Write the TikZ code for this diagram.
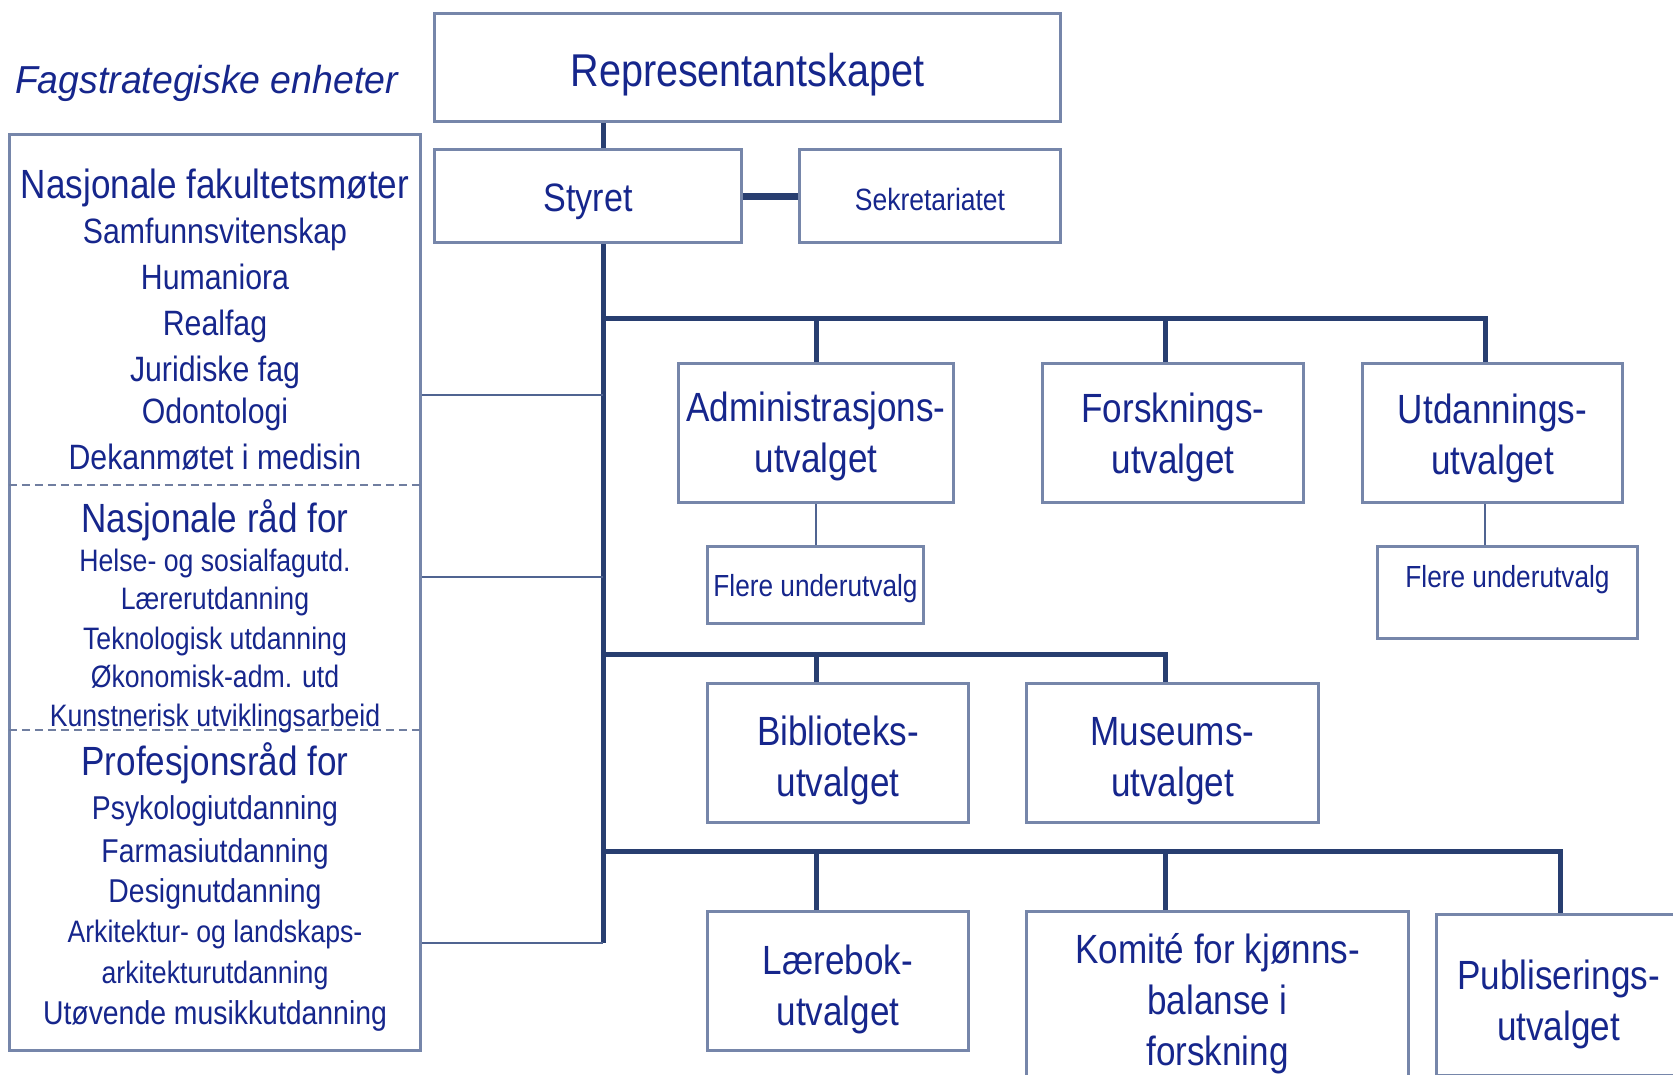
\documentclass[tikz,border=0pt]{standalone}
\usepackage{fontspec}
\setmainfont{Liberation Sans}[FakeStretch=0.86]
\newfontfamily\fagfont{Liberation Sans}[FakeStretch=0.96]
\newcommand\myfs[2]{\fontsize{#1}{#2}\selectfont}
\definecolor{txt}{RGB}{22,38,140}
\definecolor{boxc}{RGB}{118,134,170}
\definecolor{linec}{RGB}{40,62,112}
\definecolor{thinc}{RGB}{80,100,145}
\definecolor{dashc}{RGB}{112,126,160}
\tikzset{
  box/.style={draw=boxc, line width=2.4pt, fill=white, inner sep=0pt},
  bt/.style={text=txt, inner sep=0pt, align=center},
  main/.style={draw=linec, line width=5pt},
  thinline/.style={draw=thinc, line width=2pt},
  dsh/.style={draw=dashc, line width=2.4pt, dash pattern=on 8pt off 5pt},
  big/.style={font=\myfs{40.8}{51}},
  item/.style={text=txt, anchor=mid, inner sep=0pt},
  hd/.style={item, font=\myfs{40.8}{48}},
  ia/.style={item, font=\myfs{35.2}{42}},
  ib/.style={item, font=\myfs{31}{38}},
  ic/.style={item, font=\myfs{33}{40}},
}
\begin{document}
\begin{tikzpicture}[x=1pt, y=-1pt]
\useasboundingbox (0,0) rectangle (1673,1074);
\clip (0,0) rectangle (1673,1074);

% helper coordinates
\coordinate (trunk) at (603,0);
\coordinate (tbot) at (603,943);
\coordinate (b1) at (603,318);
\coordinate (b2) at (603,654);
\coordinate (b3) at (603,851);
\coordinate (c1) at (816,0);
\coordinate (c2) at (1165,0);
\coordinate (c3) at (1485,0);
\coordinate (c4) at (1560,0);
\coordinate (k1) at (603,395);
\coordinate (k2) at (603,577);
\coordinate (k3) at (603,943);

% title
\node[text=txt, anchor=base, inner sep=0pt, font=\fagfont\itshape\myfs{39}{46}] (fag) at (206.5,93) {Fagstrategiske enheter};

% boxes
\node[box, minimum width=625, minimum height=107] (Repr) at (747.5,67.5) {};
\node[box, minimum width=306, minimum height=92] (Styret) at (588,196) {};
\node[box, minimum width=260, minimum height=92] (Sekr) at (930,196) {};
\node[box, minimum width=274, minimum height=138] (Adm) at (816,433) {};
\node[box, minimum width=260, minimum height=138] (Forsk) at (1173,433) {};
\node[box, minimum width=259, minimum height=138] (Utd) at (1492.5,433) {};
\node[box, minimum width=215, minimum height=76] (FlereL) at (815.5,585) {};
\node[box, minimum width=259, minimum height=91] (FlereR) at (1507.5,592.5) {};
\node[box, minimum width=260, minimum height=138] (Bibl) at (838,753) {};
\node[box, minimum width=291, minimum height=138] (Mus) at (1172.5,753) {};
\node[box, minimum width=260, minimum height=138] (Laer) at (838,981) {};
\node[box, minimum width=381, minimum height=176] (Komite) at (1217.5,1000) {};
\node[box, minimum width=243, minimum height=160] (Publ) at (1558.5,995) {};
\node[box, minimum width=410, minimum height=915] (L) at (215,592.5) {};

% box texts
\node[bt, font=\myfs{46}{52}] (ReprT) at ([yshift=-7pt]Repr.center) {Representantskapet};
\node[bt, font=\myfs{39.6}{46}] (StyretT) at ([yshift=-6pt]Styret.center) {Styret};
\node[bt, font=\myfs{30.8}{36}] (SekrT) at ([yshift=-3pt]Sekr.center) {Sekretariatet};
\node[bt, big] (AdmT) at ([yshift=-3pt]Adm.center) {Administrasjons-\\utvalget};
\node[bt, big] (ForskT) at ([yshift=-4pt]Forsk.center) {Forsknings-\\utvalget};
\node[bt, big] (UtdT) at ([yshift=-5.5pt]Utd.center) {Utdannings-\\utvalget};
\node[bt, font=\myfs{30.5}{36}] (FlereLT) at ([yshift=-4pt]FlereL.center) {Flere underutvalg};
\node[bt, font=\myfs{30.5}{36}, anchor=mid] (FlereRT) at ([yshift=-39.5pt]FlereR.north) {Flere underutvalg};
\node[bt, big] (BiblT) at ([yshift=-7.5pt]Bibl.center) {Biblioteks-\\utvalget};
\node[bt, big] (MusT) at ([yshift=-8.5pt]Mus.center) {Museums-\\utvalget};
\node[bt, big] (LaerT) at ([yshift=-8pt]Laer.center) {Lærebok-\\utvalget};
\node[bt, big] (KomiteT) at ([yshift=-4pt]Komite.center) {Komité for kjønns-\\balanse i\\forskning};
\node[bt, big] (PublT) at ([yshift=-9pt]Publ.center) {Publiserings-\\utvalget};

% connectors
\draw[main] (Repr.south -| trunk) -- (Styret.north -| trunk);
\draw[main] (Styret.south -| trunk) -- (tbot);
\draw[draw=linec, line width=7pt] (Styret.east) -- (Sekr.west);

\draw[main] (b1) -| (Utd.north -| c3);
\draw[main] (b1 -| c1) -- (Adm.north -| c1);
\draw[main] (b1 -| c2) -- (Forsk.north -| c2);

\draw[main] (b2) -| (Mus.north -| c2);
\draw[main] (b2 -| c1) -- (Bibl.north -| c1);

\draw[main] (b3) -| (Publ.north -| c4);
\draw[main] (b3 -| c1) -- (Laer.north -| c1);
\draw[main] (b3 -| c2) -- (Komite.north -| c2);

\draw[thinline] (Adm.south -| c1) -- (FlereL.north -| c1);
\draw[thinline] (Utd.south -| c3) -- (FlereR.north -| c3);

\draw[thinline] (L.east |- k1) -- (k1);
\draw[thinline] (L.east |- k2) -- (k2);
\draw[thinline] (L.east |- k3) -- (k3);

% redraw box outlines over connector ends
\foreach \n in {Repr,Styret,Sekr,Adm,Forsk,Utd,FlereL,FlereR,Bibl,Mus,Laer,Komite,Publ,L}
  \draw[draw=boxc, line width=2.4pt] (\n.south west) rectangle (\n.north east);

% dashed separators
\draw[dsh] (L.west |- 0,485) -- (L.east |- 0,485);
\draw[dsh] (L.west |- 0,730) -- (L.east |- 0,730);

% left box texts
\node[hd] (n1) at (215,196) {Nasjonale fakultetsmøter};
\node[ia] (n2) at (215,241) {Samfunnsvitenskap};
\node[ia] (n3) at (215,287) {Humaniora};
\node[ia] (n4) at (215,333) {Realfag};
\node[ia] (n5) at (215,379) {Juridiske fag};
\node[ia] (n6) at (215,421) {Odontologi};
\node[ia] (n7) at (215,467) {Dekanmøtet i medisin};
\node[hd] (r1) at (215,530) {Nasjonale råd for};
\node[ib] (r2) at (215,569) {Helse- og sosialfagutd.};
\node[ib] (r3) at (215,607) {Lærerutdanning};
\node[ib] (r4) at (215,647) {Teknologisk utdanning};
\node[ib] (r5) at (215,685) {Økonomisk-adm. utd};
\node[ib] (r6) at (215,724) {Kunstnerisk utviklingsarbeid};
\node[hd] (p1) at (215,773) {Profesjonsråd for};
\node[ic] (p2) at (215,817) {Psykologiutdanning};
\node[ic] (p3) at (215,860) {Farmasiutdanning};
\node[ic] (p4) at (215,900) {Designutdanning};
\node[ib] (p5) at (215,940) {Arkitektur- og landskaps-};
\node[ib] (p6) at (215,981) {arkitekturutdanning};
\node[ic] (p7) at (215,1022) {Utøvende musikkutdanning};
\end{tikzpicture}
\end{document}
